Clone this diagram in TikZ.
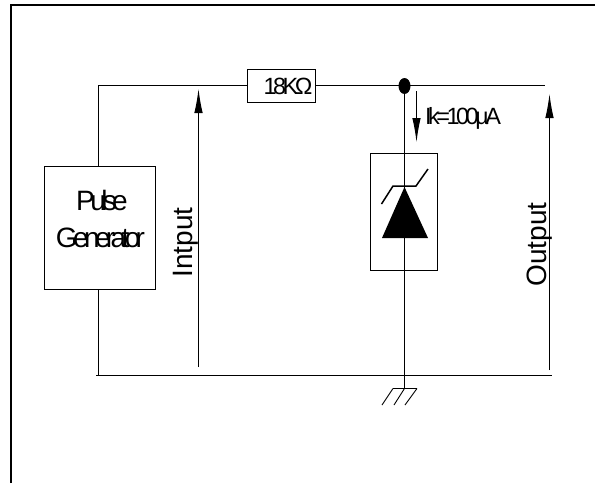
\documentclass[tikz,border=0pt]{standalone}
\usepackage{fontspec}
\setmainfont{Liberation Sans}
\newfontfamily\tightfont[LetterSpace=-15]{Liberation Sans}
\newfontfamily\tighterfont[LetterSpace=-16.5]{Liberation Sans}
\usetikzlibrary{arrows.meta,shapes.geometric}
\tikzset{
	wire/.style = {line width=1pt},
	block/.style = {shape=rectangle, draw, line width=1pt, inner sep=0pt, align=center},
	dot/.style = {shape=ellipse, fill=black, inner sep=0pt, minimum width=12pt, minimum height=16pt},
	meas/.style = {line width=1pt, -{Latex[length=24pt,width=8.5pt]}},
	biglabel/.style = {font=\fontsize{28}{28}\selectfont, inner sep=0pt, rotate=90},
	smalllabel/.style = {font=\tightfont\fontsize{23.5}{24}\selectfont, inner sep=0pt},
	genlabel/.style = {font=\tighterfont\fontsize{28}{28}\selectfont, inner sep=0pt},
}

\begin{document}
\begin{tikzpicture}[x=1pt, y=-1pt]
		\useasboundingbox (0, 0) rectangle (595, 483);
		\coordinate (fa) at (11, 483);
		\coordinate (fb) at (11, 5);
		\coordinate (fc) at (595, 5);
		\draw[line width=2pt] (fa) -- (fb) -- (fc);

		\node[block, minimum width=111pt, minimum height=123pt] (gen) at (100, 227.5) {};
		\node[genlabel] (pulse) at (102, 200) {Pulse};
		\node[genlabel] (generator) at (100.5, 238) {Generator};
		\node[block, minimum width=68pt, minimum height=33pt] (res) at (281.5, 85.5) {};
		\node[smalllabel] (ohm) at (288, 86) {18KΩ};
		\node[block, minimum width=67pt, minimum height=117pt] (zbox) at (404, 211.5) {};
		\node[dot] (jct) at (404.5, 86) {};

		\coordinate (tl) at (98.5, 85.5);
		\coordinate (tr) at (545, 85.5);
		\coordinate (bl) at (96, 375.5);
		\coordinate (br) at (552, 375.5);
		\coordinate (gnd) at (404.5, 388.5);

		\draw[wire] (res.west) -- (tl) -- (tl |- gen.north);
		\draw[wire] (tl |- gen.south) -- (tl |- bl);
		\draw[wire] (res.east) -- (tr);
		\draw[wire] (bl) -- (br);
		\draw[wire] (jct) -- (gnd);

		% zener
		\coordinate (za) at (404.5, 187);
		\coordinate (zb) at (382, 238);
		\coordinate (zc) at (428, 238);
		\fill (za) -- (zb) -- (zc) -- cycle;
		\draw[line width=1.5pt] (381.5, 204) -- (393, 186) -- (416, 186) -- (428, 169);

		% ground
		\draw[line width=0.9pt] (393, 388.5) -- (417, 388.5);
		\draw[line width=0.9pt] (393, 388.5) -- (382, 405);
		\draw[line width=0.9pt] (gnd) -- (394, 405);
		\draw[line width=0.9pt] (417, 388.5) -- (405, 405);

		\coordinate (ina) at (198.5, 367);
		\coordinate (inb) at (198.5, 89);
		\coordinate (outa) at (549.5, 370);
		\coordinate (outb) at (549.5, 94);
		\coordinate (ika) at (416.5, 91);
		\coordinate (ikb) at (416.5, 142);
		\draw[meas] (ina) -- (inb);
		\draw[meas] (outa) -- (outb);
		\draw[meas] (ika) -- (ikb);

		\node[biglabel] (input) at (186, 242.5) {Intput};
		\node[biglabel] (output) at (540, 244.5) {Output};
		\node[smalllabel, anchor=west] (ik) at (425, 118) {Ik=100µA};
	\end{tikzpicture}
\end{document}
